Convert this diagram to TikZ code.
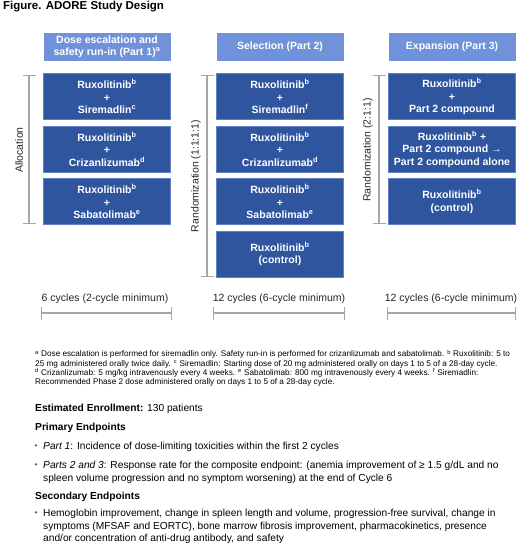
\documentclass[tikz,border=0pt]{standalone}
\usepackage{fontspec}
\setmainfont{Liberation Sans}
\usepackage{xcolor}
\usetikzlibrary{positioning, arrows.meta}

\definecolor{hdrblue}{RGB}{111,146,218}
\definecolor{armblue}{RGB}{47,85,158}
\definecolor{armedge}{RGB}{95,128,196}
\definecolor{brkgray}{RGB}{166,166,166}
\definecolor{txtgray}{RGB}{38,38,38}

\newcommand{\sps}[1]{\textsuperscript{#1}}
\newcommand{\fsz}[2]{\fontsize{#1}{#2}\selectfont}

\begin{document}
\begin{tikzpicture}[x=1pt, y=-1pt,
    hdr/.style={fill=hdrblue, text=white, font=\fsz{10.5}{12}\bfseries, minimum width=127pt, minimum height=28pt, align=center, inner sep=0pt},
    arm/.style={fill=armblue, draw=armedge, line width=0.6pt, text=white, font=\fsz{10.5}{12.5}\bfseries, minimum width=127pt, minimum height=46pt, align=center, inner sep=0pt},
    brk/.style={draw=brkgray, line width=1.3pt, {Bar[width=13pt]}-{Bar[width=13pt]}},
    sidelbl/.style={rotate=90, text=txtgray, font=\fsz{10.5}{12}, inner sep=0pt},
    cyc/.style={text=txtgray, font=\fsz{10.5}{12}, inner sep=0pt},
    foot/.style={anchor=west, align=left, font=\fsz{8.2}{9.1}, inner sep=0pt},
    body/.style={anchor=west, align=left, font=\fsz{10.2}{12.5}, inner sep=0pt},
    dot/.style={text=armblue, font=\fsz{8}{9}, inner sep=0pt}
  ]
  \useasboundingbox (0,0) rectangle (520,543);

  % title
  \node[anchor=west, font=\fsz{11.5}{13}\bfseries, inner sep=0pt] (title) at (3,7) {Figure. ADORE Study Design};

  % headers
  \node[hdr] (h1) at (107,47) {Dose escalation and\\safety run-in (Part 1)\sps{a}};
  \node[hdr] (h2) at (280,47) {Selection (Part 2)};
  \node[hdr] (h3) at (452,47) {Expansion (Part 3)};

  % Part 1 arms
  \node[arm] (p1a) at (107,96.5) {Ruxolitinib\sps{b}\\+\\Siremadlin\sps{c}};
  \node[arm] (p1b) at (107,149) {Ruxolitinib\sps{b}\\+\\Crizanlizumab\sps{d}};
  \node[arm] (p1c) at (107,201.5) {Ruxolitinib\sps{b}\\+\\Sabatolimab\sps{e}};

  % Part 2 arms
  \node[arm] (p2a) at (280,96.5) {Ruxolitinib\sps{b}\\+\\Siremadlin\sps{f}};
  \node[arm] (p2b) at (280,149) {Ruxolitinib\sps{b}\\+\\Crizanlizumab\sps{d}};
  \node[arm] (p2c) at (280,201.5) {Ruxolitinib\sps{b}\\+\\Sabatolimab\sps{e}};
  \node[arm] (p2d) at (280,254) {Ruxolitinib\sps{b}\\(control)};

  % Part 3 arms
  \node[arm] (p3a) at (452,96.5) {Ruxolitinib\sps{b}\\+\\Part 2 compound};
  \node[arm] (p3b) at (452,149) {Ruxolitinib\sps{b} +\\Part 2 compound →\\Part 2 compound alone};
  \node[arm] (p3c) at (452,201.5) {Ruxolitinib\sps{b}\\(control)};

  % brackets
  \coordinate (k1t) at (29,75);
  \coordinate (k1b) at (29,224);
  \coordinate (k2t) at (207,75);
  \coordinate (k2b) at (207,277);
  \coordinate (k3t) at (379,75);
  \coordinate (k3b) at (379,224);
  \draw[brk] (k1t) -- (k1b);
  \draw[brk] (k2t) -- (k2b);
  \draw[brk] (k3t) -- (k3b);
  \node[sidelbl] (l1) at (19,150) {Allocation};
  \node[sidelbl] (l2) at (196,176) {Randomization (1:1:1:1)};
  \node[sidelbl] (l3) at (368,150) {Randomization (2:1:1)};

  % cycles
  \node[cyc] (c1) at (105,299) {6 cycles (2-cycle minimum)};
  \node[cyc] (c2) at (279,299) {12 cycles (6-cycle minimum)};
  \node[cyc] (c3) at (451,299) {12 cycles (6-cycle minimum)};
  \coordinate (t1l) at (41,313);
  \coordinate (t1r) at (172,313);
  \coordinate (t2l) at (213,313);
  \coordinate (t2r) at (345,313);
  \coordinate (t3l) at (387,313);
  \coordinate (t3r) at (516,313);
  \draw[brk] (t1l) -- (t1r);
  \draw[brk] (t2l) -- (t2r);
  \draw[brk] (t3l) -- (t3r);

  % footnotes
  \node[foot] (fn) at (35,368) {\sps{a} Dose escalation is performed for siremadlin only. Safety run-in is performed for crizanlizumab and sabatolimab. \sps{b} Ruxolitinib: 5 to\\
    25 mg administered orally twice daily. \sps{c} Siremadlin: Starting dose of 20 mg administered orally on days 1 to 5 of a 28-day cycle.\\
    \sps{d} Crizanlizumab: 5 mg/kg intravenously every 4 weeks. \sps{e} Sabatolimab: 800 mg intravenously every 4 weeks. \sps{f} Siremadlin:\\
    Recommended Phase 2 dose administered orally on days 1 to 5 of a 28-day cycle.};

  % study details
  \node[body] (enr) at (35,409) {\textbf{Estimated Enrollment:} 130 patients};
  \node[body, font=\fsz{10.2}{12.5}\bfseries] (pri) at (35,428) {Primary Endpoints};
  \node[dot] (d1) at (36,447) {•};
  \node[body] (e1) at (43,447) {\textit{Part 1}: Incidence of dose-limiting toxicities within the first 2 cycles};
  \node[dot] (d2) at (36,466) {•};
  \node[body] (e2) at (43,472.25) {\textit{Parts 2 and 3}: Response rate for the composite endpoint: (anemia improvement of ≥ 1.5 g/dL and no\\
    spleen volume progression and no symptom worsening) at the end of Cycle 6};
  \node[body, font=\fsz{10.2}{12.5}\bfseries] (sec) at (35,497) {Secondary Endpoints};
  \node[dot] (d3) at (36,514) {•};
  \node[body] (e3) at (43,526.5) {Hemoglobin improvement, change in spleen length and volume, progression-free survival, change in\\
    symptoms (MFSAF and EORTC), bone marrow fibrosis improvement, pharmacokinetics, presence\\
    and/or concentration of anti-drug antibody, and safety};
\end{tikzpicture}
\end{document}
